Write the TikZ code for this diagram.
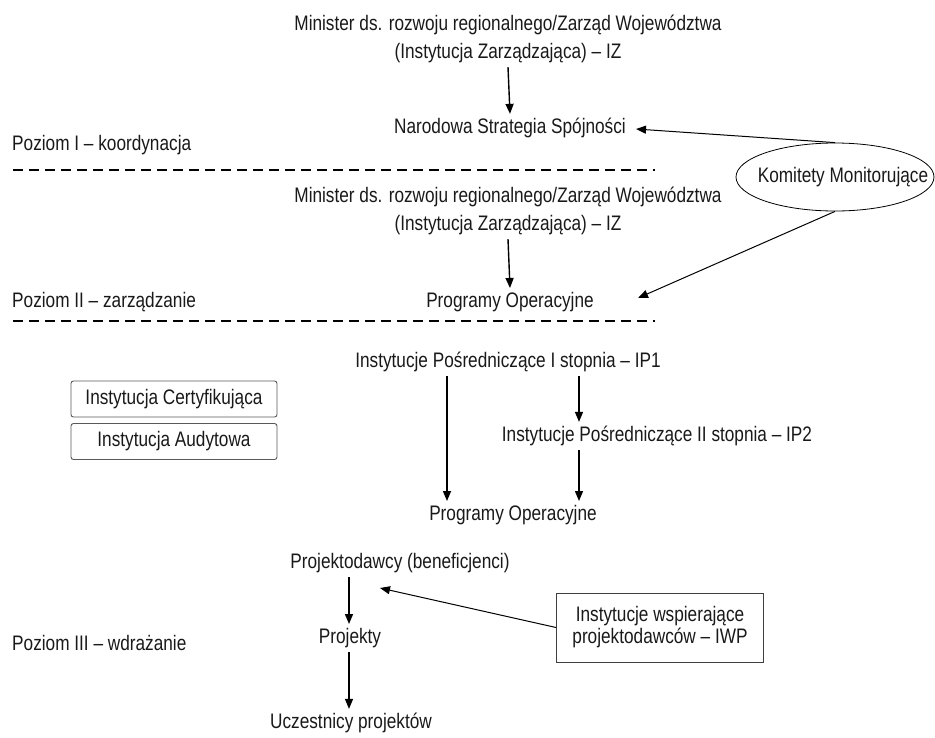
\documentclass[tikz,border=0pt]{standalone}
\usepackage{fontspec}
\setmainfont{Liberation Sans}[FakeStretch=0.82]
\usepackage{tikz}
\usetikzlibrary{arrows.meta}
\usetikzlibrary{shapes.geometric}

\tikzset{
  every node/.style={inner sep=4pt, align=center, font=\fontsize{21}{28}\selectfont, text=black!90},
  lvl/.style={anchor=west, inner sep=0pt},
  instbox/.style={draw=black!65, line width=0.9pt, rounded corners=2.5pt, minimum width=206pt, minimum height=36pt},
  arr/.style={-{Triangle[length=10pt,width=8pt]}, line width=1.4pt},
  thinarr/.style={-{Triangle[length=10pt,width=8pt]}, line width=1pt},
  sep/.style={dash pattern=on 10pt off 6pt, line width=1.2pt}
}

\begin{document}
\begin{tikzpicture}[x=1pt, y=-1pt]
    \useasboundingbox (0,0) rectangle (935,737);
    \node (iza) at (508,39) {Minister ds. rozwoju regionalnego/Zarząd Województwa\\(Instytucja Zarządzająca) – IZ};
    \node (nss) at (510,128) {Narodowa Strategia Spójności};
    \node[lvl] (poz1) at (12,145) {Poziom I – koordynacja};
    \draw[sep] (13,170) -- (655,170);
    \node (izb) at (508,211) {Minister ds. rozwoju regionalnego/Zarząd Województwa\\(Instytucja Zarządzająca) – IZ};
    \node (po1) at (510,302) {Programy Operacyjne};
    \node[lvl] (poz2) at (12,302) {Poziom II – zarządzanie};
    \draw[sep] (13,321) -- (655,321);
    \node[draw, ellipse, line width=0.8pt, minimum width=198pt, minimum height=68pt, inner sep=0pt] (km) at (835,177) {};
    \node at (843,177) {Komitety Monitorujące};
    \node (ip1) at (508,362) {Instytucje Pośredniczące I stopnia – IP1};
    \node (ip2) at (657,436) {Instytucje Pośredniczące II stopnia – IP2};
    \node (po2) at (513,515) {Programy Operacyjne};
    \node[instbox] (ic) at (174,399) {Instytucja Certyfikująca};
    \node[instbox] (ia) at (174,441.5) {Instytucja Audytowa};
    \node (pb) at (400,563) {Projektodawcy (beneficjenci)};
    \node (pr) at (350,638) {Projekty};
    \node (uc) at (351,723) {Uczestnicy projektów};
    \node[draw=black!75, line width=0.9pt, minimum width=207pt, minimum height=69pt, font=\fontsize{21}{22}\selectfont] (iwp) at (660,627.5) {Instytucje wspierające\\projektodawców – IWP};
    \node[lvl] (poz3) at (12,643) {Poziom III – wdrażanie};
    \coordinate (t1) at (636,129);
    \coordinate (t2) at (638,298);
    \coordinate (t3) at (380,588);
    \coordinate (xa) at (447,0);
    \coordinate (xb) at (579,0);
    \coordinate (xc) at (349,0);
    \draw[arr] (iza.south) -- (nss.north);
    \draw[arr] (izb.south) -- (po1.north);
    \draw[thinarr] (km.north) -- (t1);
    \draw[thinarr] (km.south) -- (t2);
    \draw[arr] (ip1.south -| xa) -- (po2.north -| xa);
    \draw[arr] (ip1.south -| xb) -- (ip2.north -| xb);
    \draw[arr] (ip2.south -| xb) -- (po2.north -| xb);
    \draw[arr] (pb.south -| xc) -- (pr.north -| xc);
    \draw[arr] (pr.south -| xc) -- (uc.north -| xc);
    \draw[thinarr] (iwp.west) -- (t3);
  \end{tikzpicture}
\end{document}
